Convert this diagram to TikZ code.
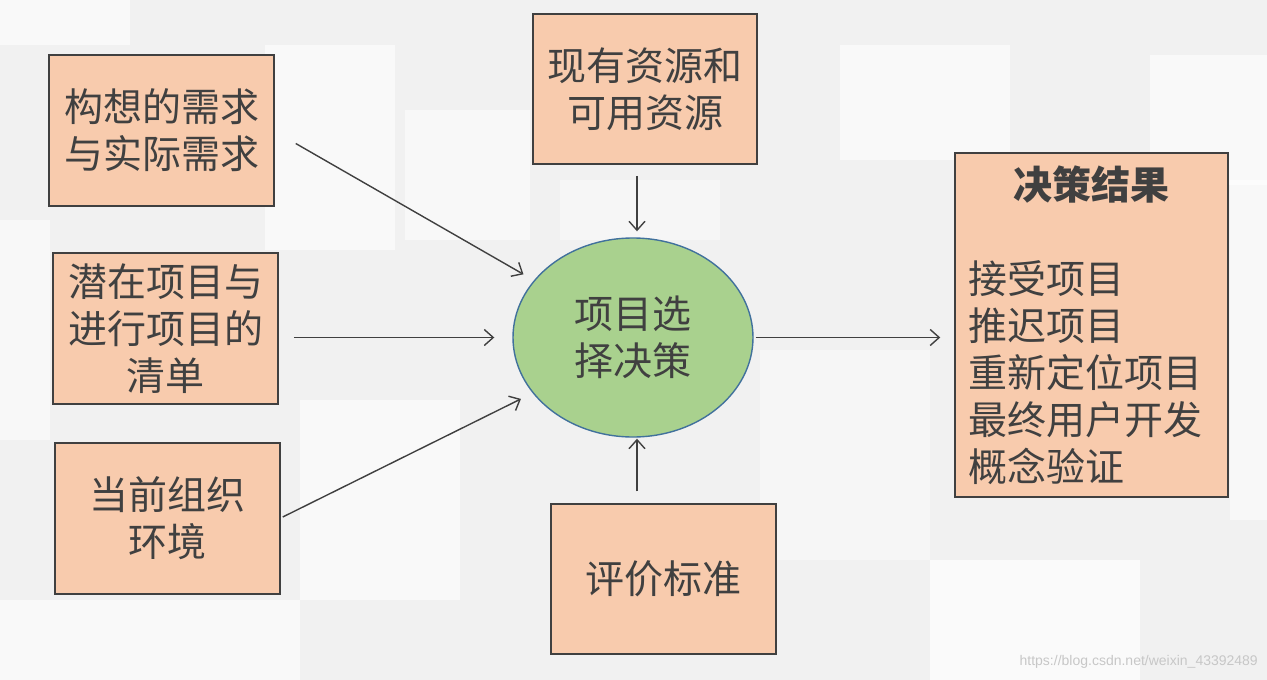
\documentclass[tikz,border=0pt]{standalone}
\usepackage{fontspec}
\setmainfont{Noto Sans CJK SC}
\newfontfamily\urlfont{Liberation Sans}
\usepackage{xcolor}
\usepackage{tikz}
\usetikzlibrary{arrows.meta,shapes.geometric}
\definecolor{boxfill}{HTML}{F8CBAD}
\definecolor{ovalfill}{HTML}{A9D18E}
\definecolor{ovaldraw}{HTML}{41719C}
\definecolor{ink}{HTML}{404040}
\definecolor{bggray}{HTML}{F1F1F1}
\tikzset{
  inbox/.style={rectangle, draw=ink, line width=1.5pt, fill=boxfill, text=ink,
                align=center, font=\fontsize{39}{47}\selectfont,
                minimum width=#1, minimum height=151pt, inner sep=0pt},
  oval/.style={ellipse, draw=ovaldraw, line width=1.4pt, fill=ovalfill, text=ink,
               align=center, font=\fontsize{39}{47}\selectfont,
               minimum width=240pt, minimum height=199pt, inner sep=0pt},
  arr/.style={-{Straight Barb[length=9pt,width=16pt]}, line width=1.4pt, draw=ink},
  tile/.style={fill=white, opacity=#1, draw=none},
}
\begin{document}
\begin{tikzpicture}[x=1pt, y=-1pt]
  % background
  \fill[bggray] (0,0) rectangle (1267,680);
  \fill[tile=0.6] (0,0) rectangle (130,45);
  \fill[tile=0.6] (265,45) rectangle (395,250);
  \fill[tile=0.5] (405,110) rectangle (530,240);
  \fill[tile=0.6] (840,45) rectangle (1010,160);
  \fill[tile=0.6] (1150,55) rectangle (1267,185);
  \fill[tile=0.5] (0,220) rectangle (50,440);
  \fill[tile=0.6] (300,400) rectangle (460,600);
  \fill[tile=0.4] (760,350) rectangle (930,560);
  \fill[tile=0.7] (930,560) rectangle (1140,680);
  \fill[tile=0.5] (1230,180) rectangle (1267,520);
  \fill[tile=0.6] (0,600) rectangle (300,680);
  \fill[tile=0.4] (560,180) rectangle (720,240);
  % nodes
  \node[inbox=225pt] (need) at (161.5,130.5) {构想的需求\\与实际需求};
  \node[inbox=225pt] (list) at (165.5,328.5) {潜在项目与\\进行项目的\\清单};
  \node[inbox=225pt] (env) at (167.5,518.5) {当前组织\\环境};
  \node[inbox=224pt, minimum height=150pt] (res) at (645,89) {现有资源和\\可用资源};
  \node[inbox=225pt, minimum height=150pt] (crit) at (663.5,579) {评价标准};
  \node[oval] (sel) at (633,337.5) {项目选\\择决策};
  \node[inbox=273pt, minimum height=344pt, text width=247pt, align=left] (out) at (1091.5,325)
    {\makebox[\linewidth]{\bfseries 决策结果}\\[47pt]
     接受项目\\推迟项目\\重新定位项目\\最终用户开发\\概念验证};
  \node[font=\urlfont\fontsize{14}{16}\selectfont, text=black!22, anchor=east, inner sep=0pt]
    (mark) at (1258,662) {https://blog.csdn.net/weixin\_43392489};
  % connectors
  \draw[arr, shorten >=12pt] ([xshift=21pt,yshift=-13pt]need.east) -- (sel.150);
  \draw[arr, shorten <=15pt, shorten >=18pt] (list.east |- sel.west) -- (sel.west);
  \draw[arr, shorten >=13pt] ([xshift=2pt,yshift=1.5pt]env.east) -- (sel.209);
  \draw[arr, shorten <=11pt, shorten >=6pt] ([xshift=-8pt]res.south) -- ([xshift=4pt]sel.north);
  \draw[arr, shorten <=12pt, shorten >=1pt] ([xshift=-26.5pt]crit.north) -- ([xshift=4pt]sel.south);
  \draw[arr, shorten <=2pt, shorten >=14pt] (sel.east) -- (sel.east -| out.west);
\end{tikzpicture}
\end{document}
